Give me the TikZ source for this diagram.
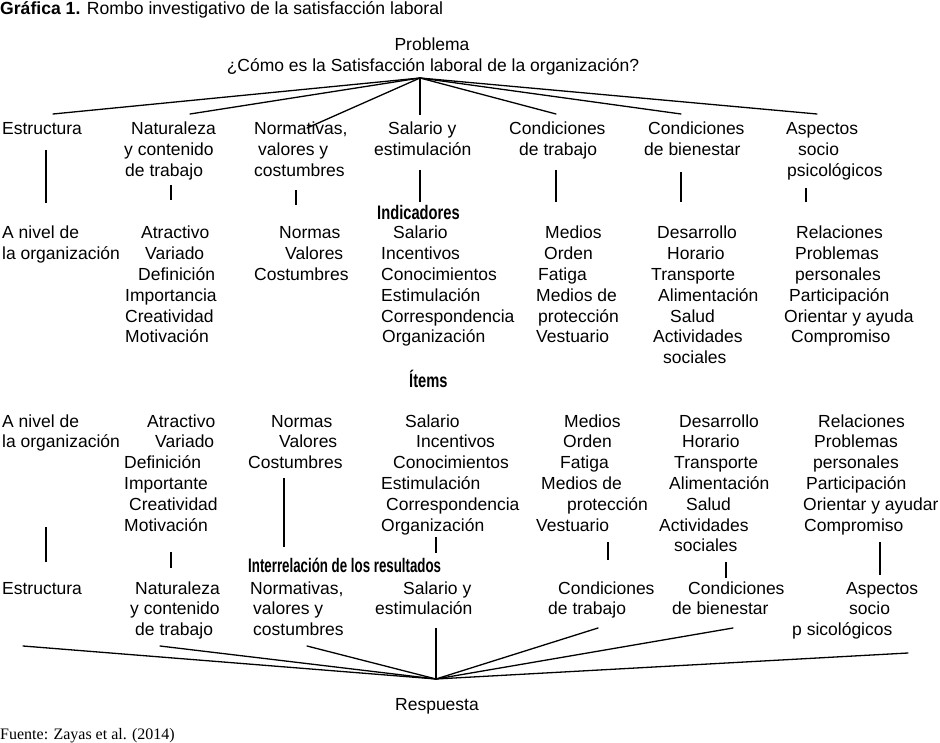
\documentclass[tikz,border=0pt]{standalone}
\usepackage{fontspec}
\setmainfont{Liberation Sans}
\newfontfamily\serifft{Liberation Serif}
\newcommand\mainsz{\fontsize{17.5}{20.8}\selectfont}
\tikzset{
  txt/.style={anchor=base west, inner sep=0pt, font=\mainsz},
  ctxt/.style={anchor=base, inner sep=0pt, font=\mainsz},
  bld/.style={anchor=base west, inner sep=0pt, font=\mainsz\bfseries},
  fan/.style={line width=1.3pt, line cap=round},
  tick/.style={line width=1.8pt},
}
\newcommand\txtcol[3]{%
  \foreach \xx/\tx [count=\i] in {#3} {\node[txt] (#1\i) at (\xx, #2+6+20.8*\i-20.8) {\tx};}}
\begin{document}
\begin{tikzpicture}[x=1pt,y=-1pt]
\useasboundingbox[fill=white] (0,0) rectangle (940,743);

% title
\node[anchor=base west, inner sep=0pt, font=\fontsize{17.6}{20}\selectfont] (title) at (0,15)
  {\textbf{Gráfica 1.} Rombo investigativo de la satisfacción laboral};

% problem
\node[ctxt] (prob) at (432,51) {Problema};
\node[ctxt] (quest) at (433,72) {¿Cómo es la Satisfacción laboral de la organización?};

% top fan
\coordinate (tap) at (420,78);
\coordinate (tfE) at (53,114);
\coordinate (tfN) at (190,114);
\coordinate (tfR) at (307,128);
\coordinate (tfS) at (420,115);
\coordinate (tfC) at (556,114);
\coordinate (tfB) at (681,114);
\coordinate (tfA) at (817,114);
\foreach \e in {tfE,tfN,tfR,tfC,tfB,tfA} \draw[fan] (tap) -- (\e);
\draw[tick] (tap) -- (tfS);

% level 1 labels (top)
\txtcol{tE}{129}{2/Estructura}
\txtcol{tN}{129}{131/Naturaleza,124/y contenido,125/de trabajo}
\txtcol{tR}{129}{254/{Normativas,},258/valores y,254/costumbres}
\txtcol{tS}{129}{388/Salario y,374/estimulación}
\txtcol{tC}{129}{509/Condiciones,519/de trabajo}
\txtcol{tB}{129}{648/Condiciones,644/de bienestar}
\txtcol{tA}{129}{786/Aspectos,798/socio,787/psicológicos}

% top ticks
\foreach \n/\x/\ya/\yb in {1/46/150/203,2/171/185/200,3/296/190/205,4/420/170/202,5/556/170/202,6/681/172/202,7/806/188/202}{
  \coordinate (uta\n) at (\x,\ya); \coordinate (utb\n) at (\x,\yb);
  \draw[tick] (uta\n) -- (utb\n);}

\node[bld] (ind) at (377,220) {\scalebox{0.84}[1.12]{Indicadores}};

% indicators
\txtcol{iE}{233}{2/A nivel de,2/la organización}
\txtcol{iN}{233}{141/Atractivo,145/Variado,138/Definición,125/Importancia,125/Creatividad,125/Motivación}
\txtcol{iR}{233}{279/Normas,285/Valores,254/Costumbres}
\txtcol{iS}{233}{393/Salario,381/Incentivos,381/Conocimientos,381/Estimulación,381/Correspondencia,382/Organización}
\txtcol{iC}{233}{545/Medios,544/Orden,538/Fatiga,536/Medios de,538/protección,536/Vestuario}
\txtcol{iB}{233}{657/Desarrollo,667/Horario,651/Transporte,658/Alimentación,670/Salud,653/Actividades,663/sociales}
\txtcol{iA}{233}{796/Relaciones,795/Problemas,795/personales,789/Participación,784/Orientar y ayuda,791/Compromiso}

\node[bld] (items) at (409,387) {\scalebox{0.84}[1.12]{Ítems}};

% items
\txtcol{mE}{421}{2/A nivel de,2/la organización}
\txtcol{mN}{421}{147/Atractivo,155/Variado,124/Definición,124/Importante,129/Creatividad,124/Motivación}
\txtcol{mR}{421}{271/Normas,279/Valores,248/Costumbres}
\txtcol{mS}{421}{405/Salario,416/Incentivos,393/Conocimientos,381/Estimulación,386/Correspondencia,381/Organización}
\txtcol{mC}{421}{564/Medios,563/Orden,560/Fatiga,541/Medios de,567/protección,536/Vestuario}
\txtcol{mB}{421}{679/Desarrollo,682/Horario,674/Transporte,669/Alimentación,686/Salud,659/Actividades,674/sociales}
\txtcol{mA}{421}{818/Relaciones,814/Problemas,813/personales,806/Participación,803/Orientar y ayudar,804/Compromiso}

% lower ticks
\foreach \n/\x/\ya/\yb in {1/46/527/562,2/171/552/568,3/284/478/547,4/436/537/553,5/608/542/560,6/726/562/578,7/880/542/575}{
  \coordinate (lta\n) at (\x,\ya); \coordinate (ltb\n) at (\x,\yb);
  \draw[tick] (lta\n) -- (ltb\n);}

\node[bld] (inter) at (248,572) {\scalebox{0.76}[1.12]{Interrelación de los resultados}};

% level 1 labels (bottom)
\txtcol{bE}{588}{2/Estructura}
\txtcol{bN}{588}{135/Naturaleza,130/y contenido,135/de trabajo}
\txtcol{bR}{588}{250/{Normativas,},253/valores y,253/costumbres}
\txtcol{bS}{588}{403/Salario y,375/estimulación}
\txtcol{bC}{588}{558/Condiciones,548/de trabajo}
\txtcol{bB}{588}{688/Condiciones,672/de bienestar}
\txtcol{bA}{588}{846/Aspectos,849/socio,792/p sicológicos}

% bottom fan
\coordinate (bap) at (436,679);
\coordinate (bfE) at (23,646);
\coordinate (bfN) at (160,646);
\coordinate (bfR) at (307,646);
\coordinate (bfS) at (436,628);
\coordinate (bfC) at (598,628);
\coordinate (bfB) at (733,628);
\coordinate (bfA) at (908,653);
\foreach \e in {bfE,bfN,bfR,bfC,bfB,bfA} \draw[fan] (bap) -- (\e);
\draw[tick] (bap) -- (bfS);

\node[ctxt] (resp) at (437,710) {Respuesta};

\node[anchor=base west, inner sep=0pt, font=\serifft\fontsize{16}{18}\selectfont] (src) at (0,739)
  {Fuente: Zayas et al. (2014)};
\end{tikzpicture}
\end{document}
